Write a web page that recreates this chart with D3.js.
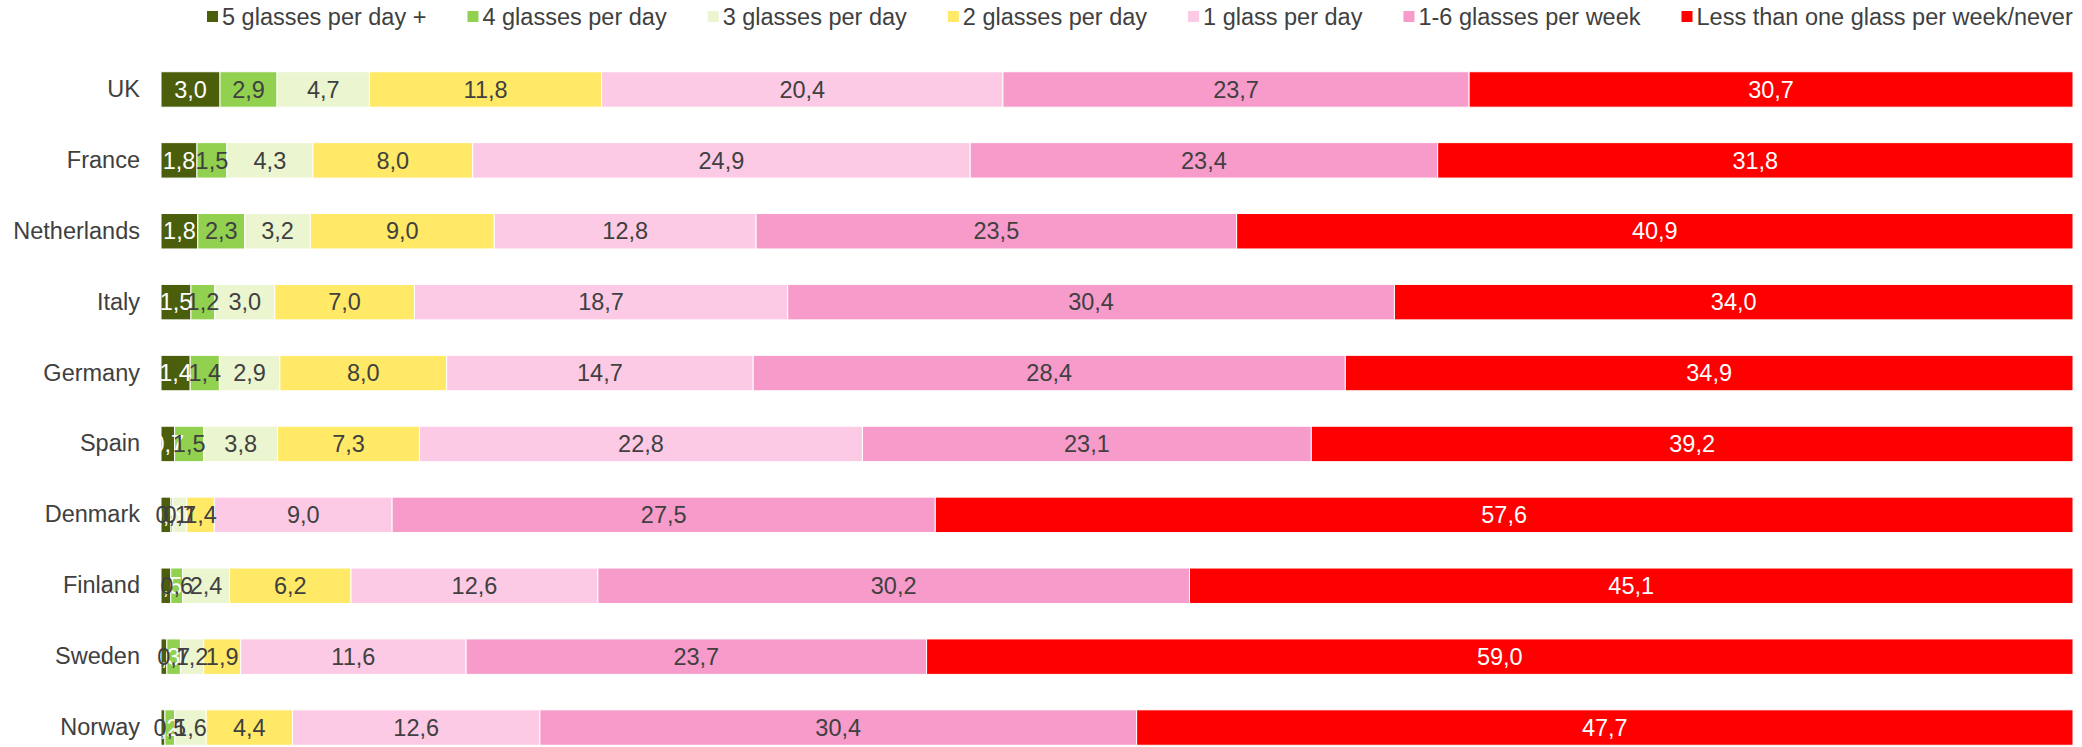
<!DOCTYPE html>
<html>
<head>
<meta charset="utf-8">
<script src="https://cdn.jsdelivr.net/npm/d3@7"></script>
<style>
  html, body { margin: 0; padding: 0; background: #ffffff; }
  svg { display: block; }
  text { font-family: "Liberation Sans", Arial, sans-serif; }
</style>
</head>
<body>
<svg id="chart" width="2082" height="747"></svg>
<script>
// ---- DATA ----
const countries = ["UK", "France", "Netherlands", "Italy", "Germany", "Spain", "Denmark", "Finland", "Sweden", "Norway"];
const seriesNames = ["5 glasses per day +", "4 glasses per day", "3 glasses per day", "2 glasses per day", "1 glass per day", "1-6 glasses per week", "Less than one glass per week/never"];
const fivePlus   = [3.0, 1.8, 1.8, 1.5, 1.4, 0.7, 0.5, 0.5, 0.3, 0.2];
const four       = [2.9, 1.5, 2.3, 1.2, 1.4, 1.5, 0.1, 0.6, 0.7, 0.5];
const three      = [4.7, 4.3, 3.2, 3.0, 2.9, 3.8, 0.7, 2.4, 1.2, 1.6];
const two        = [11.8, 8.0, 9.0, 7.0, 8.0, 7.3, 1.4, 6.2, 1.9, 4.4];
const one        = [20.4, 24.9, 12.8, 18.7, 14.7, 22.8, 9.0, 12.6, 11.6, 12.6];
const weekly     = [23.7, 23.4, 23.5, 30.4, 28.4, 23.1, 27.5, 30.2, 23.7, 30.4];
const lessOrNever= [30.7, 31.8, 40.9, 34.0, 34.9, 39.2, 57.6, 45.1, 59.0, 47.7];
const seriesValues = [fivePlus, four, three, two, one, weekly, lessOrNever];
const colors = ["#4b5e0b", "#92d050", "#ebf5cf", "#ffe966", "#fccae4", "#f79bcb", "#ff0000"];
const labelColors = ["#ffffff", "#404040", "#404040", "#404040", "#404040", "#404040", "#ffffff"];

// ---- LAYOUT ----
const svg = d3.select("#chart");
const FONT = 23.5;
const textColor = "#404040";

const x = d3.scaleLinear().domain([0, 1]).range([161, 2073]);
const y = d3.scaleBand().domain(countries).range([54, 763]).paddingInner(0.5).paddingOuter(0.25);

// Build normalized stacked data
const rows = countries.map((c, i) => {
  const vals = seriesValues.map(s => s[i]);
  const total = d3.sum(vals);
  let acc = 0;
  const segs = vals.map((v, k) => {
    const s = { country: c, series: k, value: v, x0: acc / total, x1: (acc + v) / total };
    acc += v;
    return s;
  });
  return { country: c, segs };
});
const allSegs = rows.flatMap(r => r.segs);

// Bars
svg.append("g").selectAll("rect")
  .data(allSegs)
  .join("rect")
  .attr("x", d => x(d.x0))
  .attr("y", d => y(d.country))
  .attr("width", d => Math.max(0, x(d.x1) - x(d.x0)))
  .attr("height", y.bandwidth())
  .attr("fill", d => colors[d.series])
  .attr("stroke", "#ffffff")
  .attr("stroke-width", 1);

// Value labels (drawn after all bars, in series order)
const fmt = v => d3.format(".1f")(v).replace(".", ",");
const labelG = svg.append("g");
for (let k = 0; k < seriesNames.length; k++) {
  labelG.selectAll(null)
    .data(allSegs.filter(d => d.series === k))
    .join("text")
    .attr("x", d => (x(d.x0) + x(d.x1)) / 2)
    .attr("y", d => y(d.country) + y.bandwidth() / 2)
    .attr("dy", "0.35em")
    .attr("text-anchor", "middle")
    .attr("font-size", FONT)
    .attr("fill", labelColors[k])
    .text(d => fmt(d.value));
}

// Category axis labels
const yAxis = d3.axisLeft(y).tickSize(0).tickPadding(0);
const axisG = svg.append("g").attr("transform", "translate(140,0)").call(yAxis);
axisG.select(".domain").remove();
axisG.selectAll("text")
  .attr("font-size", FONT)
  .attr("font-family", "Liberation Sans, Arial, sans-serif")
  .attr("fill", textColor);

// Legend
const legend = svg.append("g");
let lx = 207;
const ly = 17;
seriesNames.forEach((name, k) => {
  const g = legend.append("g");
  g.append("rect")
    .attr("x", lx).attr("y", ly - 6)
    .attr("width", 11).attr("height", 11)
    .attr("fill", colors[k]);
  const t = g.append("text")
    .attr("x", lx + 15).attr("y", ly)
    .attr("dy", "0.35em")
    .attr("font-size", FONT)
    .attr("fill", textColor)
    .text(name);
  const w = t.node().getComputedTextLength();
  lx = lx + 15 + w + 41;
});
</script>
</body>
</html>
